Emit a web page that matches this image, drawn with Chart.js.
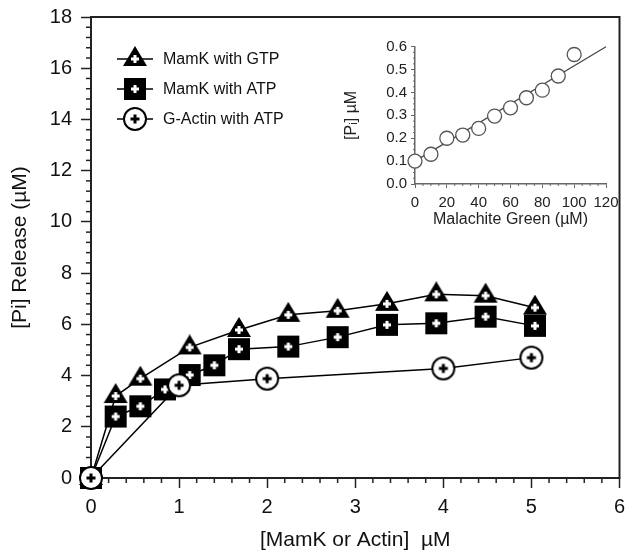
<!DOCTYPE html>
<html>
<head>
<meta charset="utf-8">
<script src="https://cdn.jsdelivr.net/npm/chart.js@4.4.1/dist/chart.umd.min.js"></script>
<style>
  html, body { margin: 0; padding: 0; background: #fff; }
  #wrap { position: relative; width: 632px; height: 556px; }
  #mainChart { position: absolute; left: 0; top: 0; }
  #insetChart { position: absolute; left: 340px; top: 30px; }
</style>
</head>
<body>
<div id="wrap">
  <canvas id="mainChart" width="632" height="556"></canvas>
  <canvas id="insetChart" width="280" height="220"></canvas>
</div>
<script>
// main plot: Pi release vs protein
const seriesNames = ["MamK with GTP", "MamK with ATP", "G-Actin with ATP"];
const gtpX = [0, 0.28, 0.56, 1.12, 1.68, 2.24, 2.80, 3.36, 3.92, 4.48, 5.04];
const gtpY = [0, 3.2, 3.88, 5.1, 5.78, 6.37, 6.53, 6.8, 7.17, 7.12, 6.65];
const atpX = [0, 0.28, 0.56, 0.84, 1.12, 1.40, 1.68, 2.24, 2.80, 3.36, 3.92, 4.48, 5.04];
const atpY = [0, 2.4, 2.8, 3.46, 4.02, 4.4, 5.03, 5.13, 5.5, 5.98, 6.04, 6.3, 5.94];
const actinX = [0, 1, 2, 4, 5];
const actinY = [0, 3.62, 3.88, 4.28, 4.7];

// inset: malachite green calibration
const mgX = [0, 10, 20, 30, 40, 50, 60, 70, 80, 90, 100];
const mgY = [0.1, 0.13, 0.2, 0.214, 0.243, 0.297, 0.333, 0.377, 0.41, 0.472, 0.566];
const fitX = [0, 120];
const fitY = [0.1, 0.6];

const FONT = "'Liberation Sans', Arial, Helvetica, sans-serif";
Chart.defaults.font.family = FONT;
Chart.defaults.color = "#111";

function toPoints(xs, ys) {
  return xs.map((x, i) => ({ x: x, y: ys[i] }));
}

function drawPlus(g, cx, cy, color, len, w) {
  g.fillStyle = color;
  g.fillRect(cx - len / 2, cy - w / 2, len, w);
  g.fillRect(cx - w / 2, cy - len / 2, w, len);
}

function makeMarker(shape) {
  const c = document.createElement("canvas");
  c.width = 26;
  c.height = 26;
  const g = c.getContext("2d");
  if (shape === "triangle") {
    g.fillStyle = "#000";
    g.beginPath();
    g.moveTo(13, 0);
    g.lineTo(25, 20);
    g.lineTo(1, 20);
    g.closePath();
    g.fill();
    drawPlus(g, 13, 13, "#fff", 8, 3);
  } else if (shape === "square") {
    g.fillStyle = "#000";
    g.fillRect(2, 2, 22, 22);
    drawPlus(g, 13, 13, "#fff", 8, 3);
  } else {
    g.beginPath();
    g.arc(13, 13, 11, 0, Math.PI * 2);
    g.fillStyle = "#fff";
    g.fill();
    g.lineWidth = 2;
    g.strokeStyle = "#000";
    g.stroke();
    drawPlus(g, 13, 13, "#000", 9, 3);
  }
  return c;
}

const markers = [makeMarker("triangle"), makeMarker("square"), makeMarker("circle")];

// minor ticks drawn from the scales themselves
const minorTicks = {
  id: "minorTicks",
  beforeDatasetsDraw(chart, args, opts) {
    const ctx = chart.ctx;
    ctx.save();
    ctx.strokeStyle = opts.color;
    ctx.lineWidth = opts.width;
    ["x", "y"].forEach((id) => {
      const s = chart.scales[id];
      const o = opts[id];
      const n = Math.round((s.max - s.min) / o.step);
      for (let i = 0; i <= n; i++) {
        const v = s.min + i * o.step;
        const r = v / o.major;
        if (Math.abs(r - Math.round(r)) < 1e-6) continue;
        const p = s.getPixelForValue(v);
        ctx.beginPath();
        if (id === "x") {
          ctx.moveTo(p, s.top);
          ctx.lineTo(p, s.top + o.len);
        } else {
          ctx.moveTo(s.right, p);
          ctx.lineTo(s.right - o.len, p);
        }
        ctx.stroke();
      }
    });
    ctx.restore();
  }
};

const frameBox = {
  id: "frameBox",
  beforeDatasetsDraw(chart) {
    const { ctx, chartArea } = chart;
    ctx.save();
    ctx.strokeStyle = "#222";
    ctx.lineWidth = 2;
    ctx.strokeRect(chartArea.left, chartArea.top, chartArea.right - chartArea.left, chartArea.bottom - chartArea.top);
    ctx.restore();
  }
};

const boxLegend = {
  id: "boxLegend",
  afterDraw(chart) {
    const { ctx, chartArea } = chart;
    const x0 = chartArea.left + 44;
    const y0 = chartArea.top + 42;
    ctx.save();
    ctx.font = "16px " + FONT;
    ctx.textBaseline = "middle";
    ctx.fillStyle = "#111";
    seriesNames.forEach((name, i) => {
      const y = y0 + i * 30;
      ctx.strokeStyle = "#000";
      ctx.lineWidth = 1.5;
      ctx.beginPath();
      ctx.moveTo(x0 - 18, y);
      ctx.lineTo(x0 + 18, y);
      ctx.stroke();
      const m = markers[i];
      ctx.drawImage(m, x0 - m.width / 2, y - m.height / 2);
      ctx.fillText(name, x0 + 28, y + 1);
    });
    ctx.restore();
  }
};

function lineSet(label, xs, ys, marker, order) {
  return {
    label: label,
    data: toPoints(xs, ys),
    showLine: true,
    borderColor: "#000",
    borderWidth: 1.5,
    pointStyle: marker,
    pointRadius: 11,
    clip: false,
    order: order
  };
}

new Chart(document.getElementById("mainChart"), {
  type: "scatter",
  data: {
    datasets: [
      lineSet(seriesNames[0], gtpX, gtpY, markers[0], 3),
      lineSet(seriesNames[1], atpX, atpY, markers[1], 2),
      lineSet(seriesNames[2], actinX, actinY, markers[2], 1)
    ]
  },
  options: {
    responsive: false,
    animation: false,
    events: [],
    layout: { padding: { top: 17, right: 3, left: 0, bottom: 0 } },
    plugins: {
      legend: { display: false },
      tooltip: { enabled: false },
      minorTicks: {
        color: "#222",
        width: 1.5,
        x: { step: 0.2, major: 1, len: 5 },
        y: { step: 0.4, major: 2, len: 5 }
      }
    },
    scales: {
      x: {
        type: "linear",
        min: 0,
        max: 6,
        ticks: { stepSize: 1, padding: 7, font: { size: 20 }, color: "#111" },
        grid: { drawOnChartArea: false, tickLength: 10, tickWidth: 1.5, tickColor: "#222" },
        border: { display: false },
        title: { display: true, text: "[MamK or Actin]  \u00b5M", font: { size: 21 }, color: "#111", padding: { top: 0, bottom: 3.4 } },
        afterFit(s) { s.height = 78; s.paddingLeft = 0; s.paddingRight = 0; }
      },
      y: {
        type: "linear",
        min: 0,
        max: 18,
        ticks: { stepSize: 2, padding: 9, font: { size: 20 }, color: "#111" },
        grid: { drawOnChartArea: false, tickLength: 10, tickWidth: 1.5, tickColor: "#222" },
        border: { display: false },
        title: { display: true, text: "[Pi] Release (\u00b5M)", font: { size: 21 }, color: "#111", padding: { top: 7.4, bottom: 0 } },
        afterFit(s) { s.width = 91; s.paddingTop = 0; s.paddingBottom = 0; }
      }
    }
  },
  plugins: [frameBox, minorTicks, boxLegend]
});

// inset chart
new Chart(document.getElementById("insetChart"), {
  type: "scatter",
  data: {
    datasets: [
      {
        label: "data",
        data: toPoints(mgX, mgY),
        pointStyle: "circle",
        pointRadius: 7,
        pointBackgroundColor: "#fff",
        pointBorderColor: "#555",
        pointBorderWidth: 1.3,
        showLine: false,
        clip: false,
        order: 1
      },
      {
        label: "fit",
        data: toPoints(fitX, fitY),
        showLine: true,
        pointRadius: 0,
        borderColor: "#444",
        borderWidth: 1.2,
        clip: false,
        order: 2
      }
    ]
  },
  options: {
    responsive: false,
    animation: false,
    events: [],
    layout: { padding: { top: 16.7, right: 14, left: 0, bottom: 0 } },
    plugins: {
      legend: { display: false },
      tooltip: { enabled: false },
      minorTicks: {
        color: "#666",
        width: 1,
        x: { step: 5, major: 20, len: 2 },
        y: { step: 0.025, major: 0.1, len: 2 }
      }
    },
    scales: {
      x: {
        type: "linear",
        min: 0,
        max: 120,
        ticks: { stepSize: 20, padding: 6, font: { size: 15 }, color: "#222" },
        grid: { drawOnChartArea: false, tickLength: 4, tickWidth: 1, tickColor: "#666" },
        border: { display: true, color: "#666", width: 1.5 },
        title: { display: true, text: "Malachite Green (\u00b5M)", font: { size: 16 }, color: "#222", padding: { top: 0, bottom: 20.4 } },
        afterFit(s) { s.height = 66; s.paddingLeft = 0; s.paddingRight = 0; }
      },
      y: {
        type: "linear",
        min: 0,
        max: 0.6,
        ticks: { stepSize: 0.1, padding: 4, font: { size: 15 }, color: "#222", callback: (v) => v.toFixed(1) },
        grid: { drawOnChartArea: false, tickLength: 4, tickWidth: 1, tickColor: "#666" },
        border: { display: true, color: "#666", width: 1.5 },
        title: { display: true, text: "[P\u1d62] \u00b5M", font: { size: 16 }, color: "#222", padding: { top: 2.4, bottom: 0 } },
        afterFit(s) { s.width = 75; s.paddingTop = 0; s.paddingBottom = 0; }
      }
    }
  },
  plugins: [minorTicks]
});
</script>
</body>
</html>
